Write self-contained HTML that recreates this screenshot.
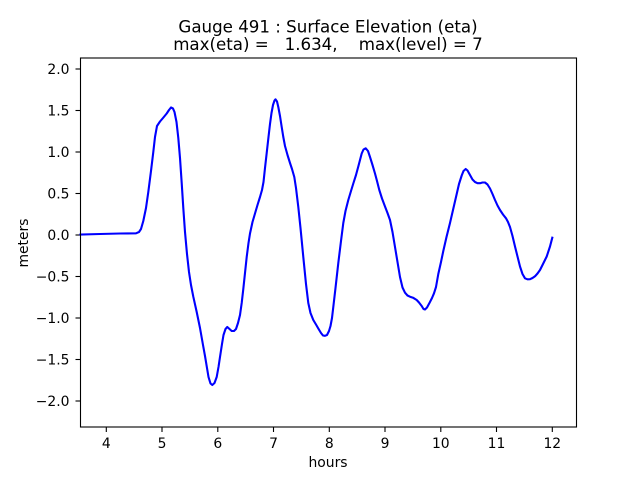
<!DOCTYPE html>
<html><head><meta charset="utf-8"><style>
html,body{margin:0;padding:0;background:#fff;}
svg{display:block;}
text{font-family:"DejaVu Sans","Liberation Sans",sans-serif;fill:#000;}
</style></head><body>
<svg width="640" height="480" viewBox="0 0 640 480" xmlns="http://www.w3.org/2000/svg">
<rect x="0" y="0" width="640" height="480" fill="#fff"/>
<text x="328" y="32.5" font-size="16.67" text-anchor="middle">Gauge 491 : Surface Elevation (eta)</text>
<text x="328" y="50" font-size="16.67" text-anchor="middle" xml:space="preserve">max(eta) =   1.634,    max(level) = 7</text>
<g stroke="#000" stroke-width="1.1">
<line x1="106.3" y1="427" x2="106.3" y2="432"/>
<line x1="162" y1="427" x2="162" y2="432"/>
<line x1="217.8" y1="427" x2="217.8" y2="432"/>
<line x1="273.5" y1="427" x2="273.5" y2="432"/>
<line x1="329.3" y1="427" x2="329.3" y2="432"/>
<line x1="385" y1="427" x2="385" y2="432"/>
<line x1="440.8" y1="427" x2="440.8" y2="432"/>
<line x1="496.5" y1="427" x2="496.5" y2="432"/>
<line x1="552.3" y1="427" x2="552.3" y2="432"/>
<line x1="75.5" y1="69" x2="80.5" y2="69"/>
<line x1="75.5" y1="110.5" x2="80.5" y2="110.5"/>
<line x1="75.5" y1="152" x2="80.5" y2="152"/>
<line x1="75.5" y1="193.5" x2="80.5" y2="193.5"/>
<line x1="75.5" y1="235" x2="80.5" y2="235"/>
<line x1="75.5" y1="276.5" x2="80.5" y2="276.5"/>
<line x1="75.5" y1="318" x2="80.5" y2="318"/>
<line x1="75.5" y1="359.5" x2="80.5" y2="359.5"/>
<line x1="75.5" y1="401" x2="80.5" y2="401"/>
</g>
<g font-size="13.9" text-anchor="middle">
<text x="106.3" y="448">4</text>
<text x="162" y="448">5</text>
<text x="217.8" y="448">6</text>
<text x="273.5" y="448">7</text>
<text x="329.3" y="448">8</text>
<text x="385" y="448">9</text>
<text x="440.8" y="448">10</text>
<text x="496.5" y="448">11</text>
<text x="552.3" y="448">12</text>
<text x="328" y="467">hours</text>
</g>
<g font-size="13.9" text-anchor="end">
<text x="69.5" y="74">2.0</text>
<text x="69.5" y="115.5">1.5</text>
<text x="69.5" y="157">1.0</text>
<text x="69.5" y="198.5">0.5</text>
<text x="69.5" y="240">0.0</text>
<text x="69.5" y="281.5">−0.5</text>
<text x="69.5" y="323">−1.0</text>
<text x="69.5" y="364.5">−1.5</text>
<text x="69.5" y="406">−2.0</text>
</g>
<text x="28" y="243" font-size="13.9" text-anchor="middle" transform="rotate(-90 28 243)">meters</text>
<polyline fill="none" stroke="#0000ff" stroke-width="2.1" stroke-linejoin="round" stroke-linecap="square" points="
80.5,234.5 100,234 120,233.5 136,233.3 139,232 141,229 143.3,221 146,208 148.3,192 151,171 153.3,152 155,137 157,126 160,121.5 163,118 166.7,113.5 169,110 171,107.5 173,108.5 174.5,112 176.5,122 178.3,138 180,158 181.7,183 183.3,208 185,232 187,254 189,272 191,285 193.3,296.7 196.7,312 200,328 203,345 205,356 207,368 208.5,377 210.5,383.5 212.3,385 214.5,383 216.7,377 218.5,367 220,357 222,344 223.5,335 225.5,329 227.3,327 229.5,329 231.7,331 234,331 236,329 238,323 240,315 241.7,303 243.3,289 245,273 246.7,257 248.5,243 250,233.5 252.5,222 255,213.5 257.5,205 260,197 262,190 263.5,182 265,168 266.7,153 268.5,137 270,124 271.5,113 273,105 274.5,100.5 275.5,99.3 277,101.5 278.3,107 280,116 281.7,127 283.3,137 285,146 287.5,155 290,163 292,169 294.3,177 296,188 298.3,207 300.5,228 303.3,257 306,284 308.3,303 310.5,313 313.3,320 316,324.5 318.3,328.5 321,333 323,335.5 325,335.8 327,335 329,331 330.5,326 332,318 333.3,307 335.5,288 338.3,263 341,241 343.3,223 345.5,211 348.3,200 351,191 353.3,183.5 356,175 358.3,166.5 360,160 361.7,153.5 363.5,149.5 365.7,148.3 368,151 370,157 372.5,165 375,173.5 377,181 379.3,190 382,198.5 385,206.5 387.5,213 390,220 392.5,232 395,247 397.5,262 400,277 402.5,287.5 405,292.7 407.5,295.5 410,296.7 413,297.7 416.7,300 419,302.5 421.7,306 423.5,309 425,309.5 427,307.5 429.3,303.3 432,298 434,293.3 436,287 438.3,274 441,262 443.3,251 446.5,237 450,223 453,210 456.7,194 459,184 461.7,175.5 463.5,171 465.7,169 467.5,170.5 470,175 472.5,179.5 475,182 477.5,183.2 480,183.2 482.5,182.5 485,182.5 487.5,184.5 490,188.5 492.5,194 495,200 497.5,205.5 500,210 503,214.5 506,218.3 508,222 510,227 512.5,236 515,246.5 517.5,256.5 520,266.5 522.5,274 525,278.3 527.5,279.3 530,279.2 532.5,278 535,276.3 537.5,273.5 540,270 543,264 546.7,256.5 550,246.5 552.3,237.7"/>
<rect x="80.5" y="58" width="496" height="369" fill="none" stroke="#000" stroke-width="1.1"/>
</svg>
</body></html>
